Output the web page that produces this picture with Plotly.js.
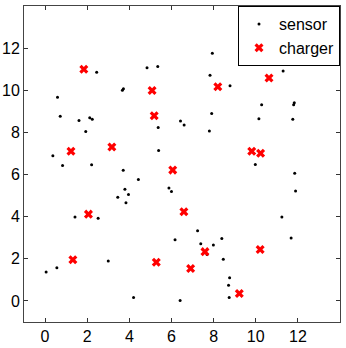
<!DOCTYPE html>
<html>
<head>
<meta charset="utf-8">
<script src="https://cdn.plot.ly/plotly-3.0.1.min.js"></script>
<style>
  html, body { margin: 0; padding: 0; background: #fff; }
  #chart { width: 346px; height: 348px; }
</style>
</head>
<body>
<div id="chart"></div>
<script>
// sensor positions
const sensorX = [2.45,4.84,5.35,0.59,3.67,3.72,0.72,1.61,2.12,2.24,5.37,1.93,0.37,5.39,0.83,2.21,3.71,
  7.94,7.83,8.78,11.30,10.28,11.83,11.80,7.91,6.43,6.60,10.15,11.76,7.80,9.98,11.85,
  4.43,3.79,3.96,3.45,3.84,5.88,6.00,1.42,2.52,0.05,0.56,3.00,4.20,6.17,
  11.89,11.24,7.24,7.39,7.99,8.39,11.68,7.69,8.46,8.76,8.71,8.74,6.41];
const sensorY = [10.85,11.07,11.13,9.67,10.00,10.07,8.77,8.56,8.70,8.62,8.23,8.04,6.89,7.14,6.43,6.46,6.20,
  11.76,10.71,10.21,10.91,9.31,9.41,9.31,8.90,8.54,8.35,8.65,8.63,8.07,6.48,6.06,
  5.77,5.30,5.05,4.92,4.66,5.36,5.19,3.98,3.92,1.37,1.58,1.89,0.16,2.90,
  5.22,3.98,3.33,2.72,2.66,2.96,2.99,2.20,1.98,1.10,0.74,0.16,0.02];

// charger positions
const chargerX = [1.84,5.08,5.18,3.17,1.23,6.06,8.20,10.63,9.81,10.23,2.06,1.32,5.28,6.59,7.59,10.21,6.91,9.22];
const chargerY = [11.00,9.99,8.79,7.31,7.11,6.21,10.17,10.58,7.11,7.01,4.12,1.95,1.84,4.23,2.34,2.44,1.54,0.35];

const tickVals = [0, 2, 4, 6, 8, 10, 12];

const axisStyle = {
  range: [-1, 14],
  tickvals: tickVals,
  ticks: 'inside',
  ticklen: 4,
  tickcolor: '#333',
  showline: true,
  linecolor: '#444',
  linewidth: 1,
  mirror: 'ticks',
  showgrid: false,
  zeroline: false,
  tickfont: { family: 'Liberation Sans, Arial, sans-serif', size: 16, color: '#000' }
};

Plotly.newPlot('chart', [
  {
    x: sensorX, y: sensorY, name: 'sensor',
    type: 'scatter', mode: 'markers',
    marker: { color: '#000', size: 3 }
  },
  {
    x: chargerX, y: chargerY, name: 'charger',
    type: 'scatter', mode: 'markers',
    marker: { color: '#ff0000', size: 8, symbol: 'x', line: { width: 0 } }
  }
], {
  width: 346,
  height: 348,
  margin: { l: 24, r: 6, t: 6, b: 26 },
  paper_bgcolor: '#fff',
  plot_bgcolor: '#fff',
  xaxis: Object.assign({}, axisStyle),
  yaxis: Object.assign({}, axisStyle),
  showlegend: true,
  legend: {
    x: 1, y: 1, xanchor: 'right', yanchor: 'top',
    bordercolor: '#000', borderwidth: 1, bgcolor: '#fff',
    font: { family: 'Liberation Sans, Arial, sans-serif', size: 16, color: '#000' },
    tracegroupgap: 0
  }
}, { displayModeBar: false, staticPlot: true });
</script>
</body>
</html>
